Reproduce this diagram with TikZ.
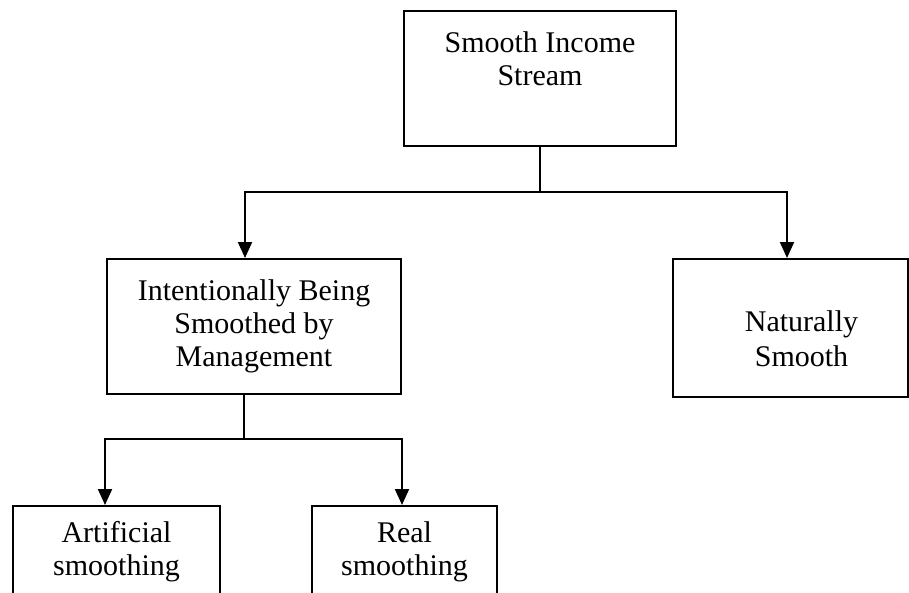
\documentclass[tikz,border=0pt]{standalone}
\usepackage{fontspec}
\setmainfont{Liberation Serif}
\usetikzlibrary{arrows.meta,calc}

\begin{document}
\begin{tikzpicture}[x=0.5pt,y=-0.5pt,
  block/.style={draw,line width=1pt,align=center,inner sep=0pt,font=\fontsize{15}{16.5}\selectfont},
  link/.style={line width=1pt},
  arr/.style={line width=1pt,-{Triangle[length=8pt,width=7pt]}}]
\useasboundingbox (0,0) rectangle (909,593);
\node[block,minimum width=136pt,minimum height=67.5pt] (income) at (540,78.5) {Smooth Income\\Stream\\[3pt]~};
\node[block,minimum width=147pt,minimum height=67.5pt] (intent) at (254,326.5) {Intentionally Being\\Smoothed by\\Management};
\node[block,minimum width=117.5pt,minimum height=69pt] (natural) at (790.5,328) {~\\[5pt]\hspace*{11pt}Naturally\\[1pt]\hspace*{11pt}Smooth};
\node[block,minimum width=103.5pt,minimum height=46pt] (artif) at (116.5,552) {Artificial\\smoothing};
\node[block,minimum width=92.5pt,minimum height=46pt] (real) at (404.5,552) {Real\\smoothing};
\coordinate (fork1) at (540,192);
\coordinate (fork2) at (244,439);
\draw[link] (income.south) -- (fork1);
\draw[arr] (fork1) -| ($(intent.north)+(-9,0)$);
\draw[arr] (fork1) -| ($(natural.north)+(-3.5,0)$);
\draw[link] ($(intent.south)+(-10,0)$) -- (fork2);
\draw[arr] (fork2) -| ($(artif.north)+(-11.5,0)$);
\draw[arr] (fork2) -| ($(real.north)+(-2.5,0)$);
\end{tikzpicture}
\end{document}
